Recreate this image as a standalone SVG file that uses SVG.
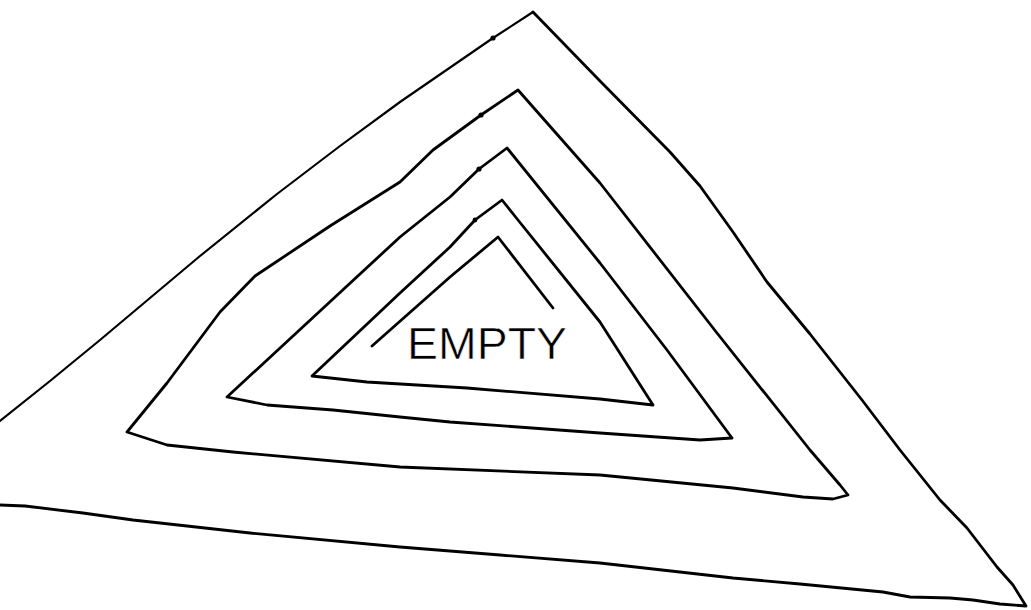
<svg xmlns="http://www.w3.org/2000/svg" width="1031" height="610" viewBox="0 0 1031 610">
<style>
.ln{fill:none;stroke:#000;stroke-width:2.8;stroke-linejoin:round;stroke-linecap:round}
.thin{stroke-width:2.2}
.dot{fill:#000}
.lbl{font-family:"Liberation Sans",Arial,sans-serif;font-size:45px;fill:#000;stroke:#fff;stroke-width:0.6}
</style>
<rect width="1031" height="610" fill="#fff"/>
<g id="loop1">
<path class="ln thin" d="M0,421 L50,381 L100,340 L200,256 L277,194 L340,146 L400,102 L493,38 L533,12"/>
<path class="ln" d="M533,12 L600,81 L670,152 L700,186 L733,232 L767,282 L810,334 L862,400 L900,450 L940,500 L967,528 L997,567 L1013,585 L1026,606 L1000,604 L973,600 L950,598 L910,597 L883,592 L800,584 L733,578 L600,563 L500,555 L400,547 L250,533 L133,520 L83,513 L25,506 L0,505"/>
<circle class="dot" cx="493" cy="38" r="2.6"/>
</g>
<g id="loop2">
<path class="ln" d="M518,90 L600,183 L717,333 L810,450 L840,485 L848,495 L833,499 L803,497 L733,488 L600,475 L400,467 L233,452 L167,445 L127,432 L167,383 L220,312 L255,276 L330,226 L400,182 L433,150 L481,115 Z"/>
<circle class="dot" cx="481" cy="115" r="2.6"/>
</g>
<g id="loop3">
<path class="ln" d="M507,148 L600,263 L667,350 L732,438 L700,440 L600,433 L450,422 L400,417 L333,410 L267,405 L227,397 L333,299 L400,237 L450,197 L479,169 Z"/>
<circle class="dot" cx="479" cy="169" r="2.6"/>
</g>
<g id="loop4">
<path class="ln" d="M502,200 L518,220 L600,322 L653,405 L600,399 L467,388 L367,382 L312,376 L400,293 L450,247 L475,220 Z"/>
<circle class="dot" cx="475" cy="220" r="2.4"/>
</g>
<g id="loop5">
<path class="ln" d="M372,346 L450,277 L498,237 L553,308"/>
<text class="lbl" x="407" y="359" textLength="160" lengthAdjust="spacingAndGlyphs">EMPTY</text>
</g>
</svg>
